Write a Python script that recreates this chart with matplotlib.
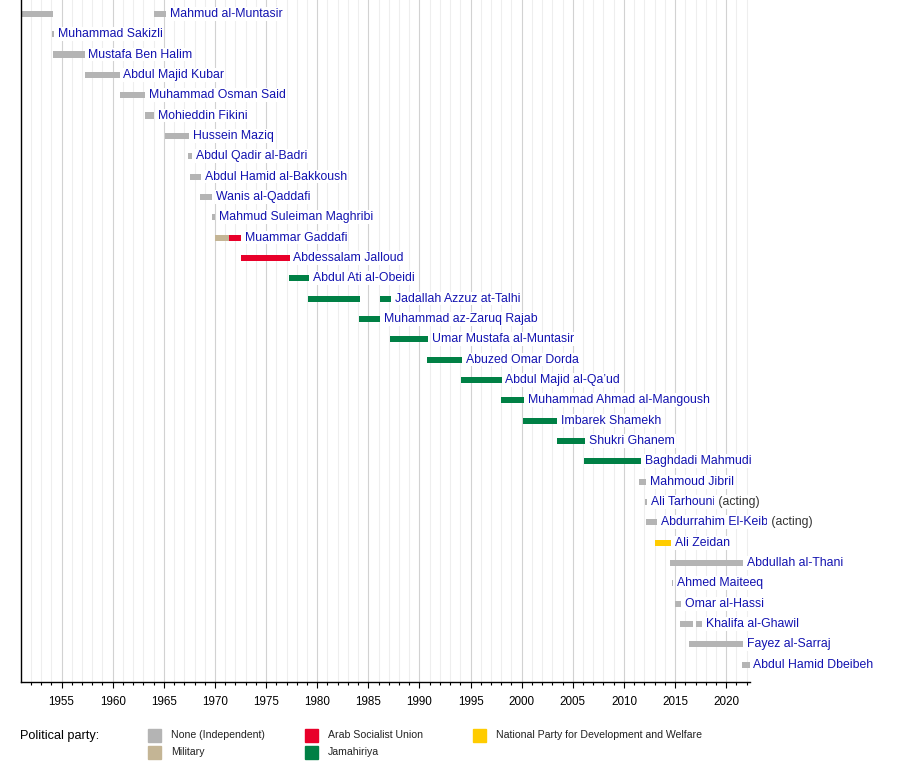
import matplotlib
matplotlib.use("Agg")
import matplotlib.pyplot as plt
from matplotlib.patches import Rectangle

# -----------------------------------------
# Data (years as decimals)
# -----------------------------------------

names = [
    "Mahmud al-Muntasir", "Muhammad Sakizli", "Mustafa Ben Halim",
    "Abdul Majid Kubar", "Muhammad Osman Said", "Mohieddin Fikini",
    "Hussein Maziq", "Abdul Qadir al-Badri", "Abdul Hamid al-Bakkoush",
    "Wanis al-Qaddafi", "Mahmud Suleiman Maghribi", "Muammar Gaddafi",
    "Abdessalam Jalloud", "Abdul Ati al-Obeidi", "Jadallah Azzuz at-Talhi",
    "Muhammad az-Zaruq Rajab", "Umar Mustafa al-Muntasir", "Abuzed Omar Dorda",
    "Abdul Majid al-Qa\u2019ud", "Muhammad Ahmad al-Mangoush", "Imbarek Shamekh",
    "Shukri Ghanem", "Baghdadi Mahmudi", "Mahmoud Jibril", "Ali Tarhouni",
    "Abdurrahim El-Keib", "Ali Zeidan", "Abdullah al-Thani", "Ahmed Maiteeq",
    "Omar al-Hassi", "Khalifa al-Ghawil", "Fayez al-Sarraj",
    "Abdul Hamid Dbeibeh",
]

notes = {"Ali Tarhouni": " (acting)", "Abdurrahim El-Keib": " (acting)"}

# (start, end, party) for each term of office
terms = [
    [(1951.13, 1954.12, "none"), (1963.99, 1965.22, "none")],
    [(1954.10, 1954.25, "none")],
    [(1954.18, 1957.27, "none")],
    [(1957.27, 1960.68, "none")],
    [(1960.68, 1963.18, "none")],
    [(1963.18, 1964.06, "none")],
    [(1965.16, 1967.46, "none")],
    [(1967.40, 1967.75, "none")],
    [(1967.60, 1968.67, "none")],
    [(1968.56, 1969.73, "none")],
    [(1969.67, 1970.00, "none")],
    [(1970.00, 1971.39, "mil"), (1971.39, 1972.55, "asu")],
    [(1972.50, 1977.30, "asu")],
    [(1977.20, 1979.24, "jam")],
    [(1979.10, 1984.20, "jam"), (1986.10, 1987.23, "jam")],
    [(1984.05, 1986.19, "jam")],
    [(1987.16, 1990.86, "jam")],
    [(1990.76, 1994.17, "jam")],
    [(1994.07, 1998.06, "jam")],
    [(1998.00, 2000.23, "jam")],
    [(2000.10, 2003.50, "jam")],
    [(2003.43, 2006.24, "jam")],
    [(2006.14, 2011.69, "jam")],
    [(2011.50, 2012.20, "none")],
    [(2012.10, 2012.30, "none")],
    [(2012.20, 2013.26, "none")],
    [(2013.07, 2014.63, "npdw")],
    [(2014.53, 2021.64, "none")],
    [(2014.73, 2014.83, "none")],
    [(2015.02, 2015.60, "none")],
    [(2015.50, 2016.77, "none"), (2017.06, 2017.65, "none")],
    [(2016.40, 2021.64, "none")],
    [(2021.54, 2022.32, "none")],
]

party_keys = ["none", "mil", "asu", "jam", "npdw"]
party_labels = [
    "None (Independent)", "Military", "Arab Socialist Union",
    "Jamahiriya", "National Party for Development and Welfare",
]
party_colors = ["#b4b4b4", "#c4b595", "#e8002a", "#008045", "#ffcc00"]
colors = dict(zip(party_keys, party_colors))

# -----------------------------------------
# Figure
# -----------------------------------------

plt.rcParams["font.family"] = ["Liberation Sans", "DejaVu Sans"]

fig = plt.figure(figsize=(9, 7.62), dpi=100)
ax = fig.add_axes([0.023, 1 - 682 / 762, 0.833 - 0.023, 682 / 762])

x_min, x_max = 1951.0, 2022.3
ax.set_xlim(x_min, x_max)
ax.set_ylim(32.85, -0.68)

# grid lines
for yr in range(1952, 2023):
    col = "#d2d2d2" if yr % 5 == 0 else "#eeeeee"
    ax.axvline(yr, color=col, lw=0.8, zorder=0)

bar_h = 0.3
for i, (name, row) in enumerate(zip(names, terms)):
    for start, end, party in row:
        ax.add_patch(Rectangle((start, i - bar_h / 2), end - start, bar_h,
                               color=colors[party], lw=0, zorder=2))
    last_end = max(t[1] for t in row)
    t = ax.text(last_end + 0.35, i, name, color="#1212b0", fontsize=8.85,
                va="center", ha="left", zorder=3,
                bbox=dict(facecolor="white", edgecolor="none", pad=0.6))
    if name in notes:
        fig.canvas.draw()
        bb = t.get_window_extent()
        x_end = ax.transData.inverted().transform((bb.x1, 0))[0]
        ax.text(x_end, i, notes[name], color="#333333", fontsize=8.85,
                va="center", ha="left", zorder=3,
                bbox=dict(facecolor="white", edgecolor="none", pad=0.6))

# axes styling
for side in ["top", "right"]:
    ax.spines[side].set_visible(False)
ax.spines["left"].set_linewidth(1.0)
ax.spines["bottom"].set_linewidth(1.0)
ax.set_yticks([])
ax.set_xticks(range(1955, 2021, 5))
ax.set_xticks(range(1952, 2023), minor=True)
ax.tick_params(axis="x", which="major", length=4, width=0.8, pad=6,
               labelsize=8.4)
ax.tick_params(axis="x", which="minor", length=2, width=0.8)
for lbl in ax.get_xticklabels():
    lbl.set_family(["Liberation Sans Narrow", "Liberation Sans"])

# -----------------------------------------
# Legend
# -----------------------------------------

fig.text(20 / 900, 1 - 736 / 762, "Political party:", fontsize=9.2,
         va="center", ha="left")

legend_pos = [(148, 735.5), (148, 752), (305, 735.5), (305, 752), (473, 735.5)]
for (px, py), lab, col in zip(legend_pos, party_labels, party_colors):
    fig.patches.append(Rectangle((px / 900, 1 - (py + 6.5) / 762),
                                 13 / 900, 13 / 762, color=col,
                                 transform=fig.transFigure, figure=fig))
    fig.text((px + 23) / 900, 1 - py / 762, lab, fontsize=7.6,
             va="center", ha="left", color="#222222",
             family=["Liberation Sans Narrow", "Liberation Sans"])

fig.savefig("out.png", dpi=100)
